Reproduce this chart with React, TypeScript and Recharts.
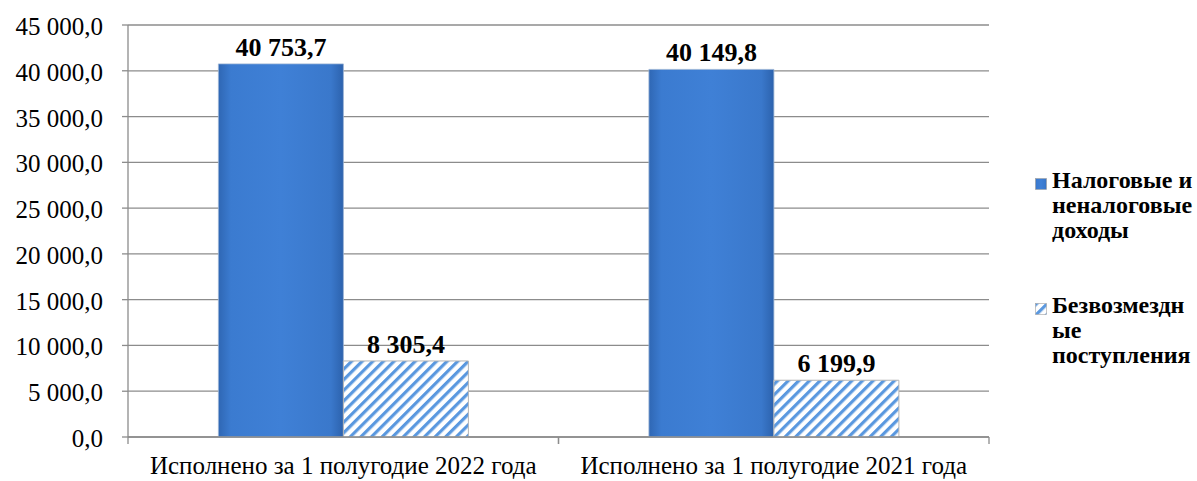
import React from 'react';
import { BarChart, Bar, XAxis, YAxis, CartesianGrid, LabelList } from 'recharts';

// Категории и значения
const categories = ['Исполнено за 1 полугодие 2022 года', 'Исполнено за 1 полугодие 2021 года'];
const taxIncome = [40753.7, 40149.8];
const grants = [8305.4, 6199.9];
const yTicks = [0, 5000, 10000, 15000, 20000, 25000, 30000, 35000, 40000, 45000];

const seriesNames = ['Налоговые и неналоговые доходы', 'Безвозмездные поступления'];

const data = categories.map((name, i) => ({ name, tax: taxIncome[i], grants: grants[i] }));

const W = 1197;
const H = 481;
const M = { top: 25, right: 208, bottom: 0, left: 0 };
const Y_W = 128;
const HALF_BAND = (W - M.right - Y_W) / categories.length / 2;

const fmt = (v: number) => {
  const [int, dec] = Math.abs(v).toFixed(1).split('.');
  return int.replace(/\B(?=(\d{3})+(?!\d))/g, ' ') + ',' + dec;
};

const serif = '"Liberation Serif", serif';

const XTick = (props: any) => {
  const { x, y, payload } = props;
  const ay = y - 8;
  return (
    <g>
      <line x1={x - HALF_BAND} y1={ay} x2={x - HALF_BAND} y2={ay + 7} stroke="#8c8c8c" strokeWidth={1.3} />
      <line x1={x + HALF_BAND} y1={ay} x2={x + HALF_BAND} y2={ay + 7} stroke="#8c8c8c" strokeWidth={1.3} />
      <text x={x} y={ay + 37} textAnchor="middle" fontSize={25} style={{ fontFamily: serif }} fill="#000">
        {payload.value}
      </text>
    </g>
  );
};

const YTick = (props: any) => {
  const { x, y, payload } = props;
  return (
    <text x={x} y={y} dy={10} textAnchor="end" fontSize={25} style={{ fontFamily: serif }} fill="#000">
      {fmt(payload.value)}
    </text>
  );
};

const BarLabel = (props: any) => {
  const { x, y, width, value } = props;
  return (
    <text x={x + width / 2} y={y - 8} textAnchor="middle" fontSize={26}
      style={{ fontFamily: serif, fontWeight: 700 }} fill="#000">
      {fmt(Number(value))}
    </text>
  );
};

const Marker = ({ fill }: { fill: string }) => (
  <svg width={12} height={12} style={{ position: 'absolute', left: -17, top: 10 }}>
    <rect x={0.5} y={0.5} width={11} height={11} fill={fill} stroke="#a0a0a0" strokeWidth={0.6} />
  </svg>
);

const LegendBox = () => (
  <div style={{ position: 'absolute', left: 1052, top: 168, width: 147, fontFamily: serif, fontWeight: 700, fontSize: 24, lineHeight: '25px', color: '#000' }}>
    <div style={{ position: 'relative', marginBottom: 50, overflowWrap: 'anywhere' }}>
      <Marker fill="url(#blueGrad)" />
      {seriesNames[0]}
    </div>
    <div style={{ position: 'relative', overflowWrap: 'anywhere' }}>
      <Marker fill="url(#hatch)" />
      {seriesNames[1]}
    </div>
  </div>
);

const App: React.FC = () => {
  return (
    <div style={{ position: 'absolute', left: 0, top: 0, width: W, height: H, background: '#fff' }}>
      <svg width={0} height={0} style={{ position: 'absolute' }}>
        <defs>
          <linearGradient id="blueGrad" x1="0" y1="0" x2="1" y2="0">
            <stop offset="0%" stopColor="#2f67b4" />
            <stop offset="10%" stopColor="#3b7bd0" />
            <stop offset="50%" stopColor="#3f80d6" />
            <stop offset="90%" stopColor="#3a78cb" />
            <stop offset="100%" stopColor="#2c62ad" />
          </linearGradient>
          <pattern id="hatch" width={7.5} height={7.5} patternUnits="userSpaceOnUse" patternTransform="rotate(45)">
            <rect width={7.5} height={7.5} fill="#ffffff" />
            <rect width={3.2} height={7.5} fill="#5a98df" />
          </pattern>
        </defs>
      </svg>
      <BarChart width={W} height={H} data={data} margin={M} barCategoryGap="21%" barGap={0}>
        <CartesianGrid vertical={false} stroke="#8c8c8c" strokeWidth={1.3} />
        <XAxis
          dataKey="name"
          height={44}
          tickLine={false}
          axisLine={{ stroke: '#8c8c8c', strokeWidth: 1.3 }}
          tick={<XTick />}
          interval={0}
        />
        <YAxis
          width={Y_W}
          domain={[0, 45000]}
          ticks={yTicks}
          interval={0}
          tickSize={6}
          tickMargin={19}
          tickLine={{ stroke: '#8c8c8c', strokeWidth: 1.3 }}
          axisLine={{ stroke: '#8c8c8c', strokeWidth: 1.3 }}
          tick={<YTick />}
        />
        <Bar dataKey="tax" name={seriesNames[0]} fill="url(#blueGrad)" stroke="#9cb4d4" strokeWidth={0.8} isAnimationActive={false}>
          <LabelList dataKey="tax" content={<BarLabel />} />
        </Bar>
        <Bar dataKey="grants" name={seriesNames[1]} fill="url(#hatch)" stroke="#b4b4b4" strokeWidth={1} isAnimationActive={false}>
          <LabelList dataKey="grants" content={<BarLabel />} />
        </Bar>
      </BarChart>
      <LegendBox />
    </div>
  );
};

export default App;
